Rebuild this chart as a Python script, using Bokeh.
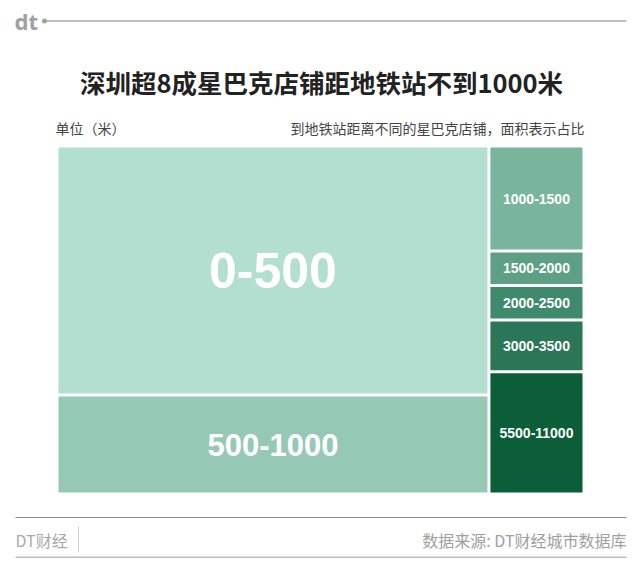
from bokeh.plotting import figure
from bokeh.models import ColumnDataSource, Range1d, Label
from bokeh.core.properties import value
from bokeh.embed import file_html
from bokeh.resources import INLINE

# ---- data ----
categories = ["0-500", "500-1000", "1000-1500", "1500-2000", "2000-2500", "3000-3500", "5500-11000"]
store_counts = [66, 26, 6, 2, 2, 3, 7]
column_of = [0, 0, 1, 1, 1, 1, 1]
colors = ["#b2dfcf", "#96c9b5", "#79b49c", "#5ea086", "#3f8a6c", "#2a7657", "#0b5e38"]
label_sizes = ["50px", "31px", "14px", "14px", "14px", "14px", "14px"]

title_text = "深圳超8成星巴克店铺距地铁站不到1000米"
unit_text = "单位（米）"
subtitle_text = "到地铁站距离不同的星巴克店铺，面积表示占比"
brand_text = "DT财经"
source_text = "数据来源: DT财经城市数据库"

CJK = "Noto Sans CJK SC"

# ---- layout (picture pixel coordinates) ----
W, H = 632, 558
p = figure(width=W, height=H, output_backend="svg", toolbar_location=None,
           x_range=Range1d(0, W), y_range=Range1d(H, 0),
           x_axis_type=None, y_axis_type=None, min_border=0)
p.outline_line_color = None
p.xgrid.visible = False
p.ygrid.visible = False
p.background_fill_color = "white"
p.border_fill_color = "white"

# treemap slice-and-dice: columns then stacked rows
X0, X1, Y0, Y1 = 58.0, 582.0, 147.0, 492.0
GAP = 1.5
total = float(sum(store_counts))
ncol = max(column_of) + 1
col_sums = [sum(v for v, c in zip(store_counts, column_of) if c == k) for k in range(ncol)]
left, right, top, bottom, cx, cy = [], [], [], [], [], []
xcur = X0
col_bounds = []
for k in range(ncol):
    w = (X1 - X0) * col_sums[k] / total
    col_bounds.append((xcur, xcur + w))
    xcur += w
ycur = {k: Y0 for k in range(ncol)}
for v, c in zip(store_counts, column_of):
    xa, xb = col_bounds[c]
    h = (Y1 - Y0) * v / col_sums[c]
    ya, yb = ycur[c], ycur[c] + h
    ycur[c] = yb
    l = xa + (GAP if xa > X0 + 0.1 else 0)
    r = xb - (GAP if xb < X1 - 0.1 else 0)
    t = ya + (GAP if ya > Y0 + 0.1 else 0)
    b = yb - (GAP if yb < Y1 - 0.1 else 0)
    left.append(l); right.append(r); top.append(t); bottom.append(b)
    cx.append((l + r) / 2); cy.append((t + b) / 2)

src = ColumnDataSource(dict(left=left, right=right, top=top, bottom=bottom,
                            cx=cx, cy=cy, cat=categories, color=colors, size=label_sizes))
p.quad(left="left", right="right", top="top", bottom="bottom", fill_color="color",
       line_color=None, source=src)
p.text(x="cx", y="cy", text="cat", source=src, text_color="white", text_font_size="size",
       text_font=value("Liberation Sans"), text_font_style="bold", text_align="center",
       text_baseline="middle")

# header
p.add_layout(Label(x=14, y=20, text="dt", text_font="Noto Sans", text_font_size="22px",
                   text_font_style="bold", text_color="#a0a0a0", text_baseline="middle"))
p.segment(x0=[44], y0=[20.5], x1=[626], y1=[20.5], line_color="#a8a8a8", line_width=1.5)
p.scatter(x=[44], y=[20.5], size=5, fill_color="#a0a0a0", line_color=None)

p.add_layout(Label(x=321, y=81, text=title_text, text_font=CJK, text_font_size="25.5px",
                   text_font_style="bold", text_color="#222222", text_align="center",
                   text_baseline="middle"))
p.add_layout(Label(x=55, y=127, text=unit_text, text_font=CJK, text_font_size="14px",
                   text_color="#444444", text_baseline="middle"))
p.add_layout(Label(x=584, y=127, text=subtitle_text, text_font=CJK, text_font_size="14px",
                   text_color="#444444", text_align="right", text_baseline="middle"))

# footer
p.segment(x0=[15], y0=[517], x1=[626], y1=[517], line_color="#8a8a8a", line_width=1.2)
p.segment(x0=[15], y0=[557], x1=[626], y1=[557], line_color="#bdbdbd", line_width=2)
p.segment(x0=[78], y0=[526], x1=[78], y1=[552], line_color="#d0d0d0", line_width=1)
p.add_layout(Label(x=15, y=539, text=brand_text, text_font=CJK, text_font_size="16px",
                   text_color="#aaaaaa", text_baseline="middle"))
p.add_layout(Label(x=626, y=539, text=source_text, text_font=CJK, text_font_size="16px",
                   text_color="#a0a0a0", text_align="right", text_baseline="middle"))

open("out.html", "w").write(file_html(p, INLINE))
